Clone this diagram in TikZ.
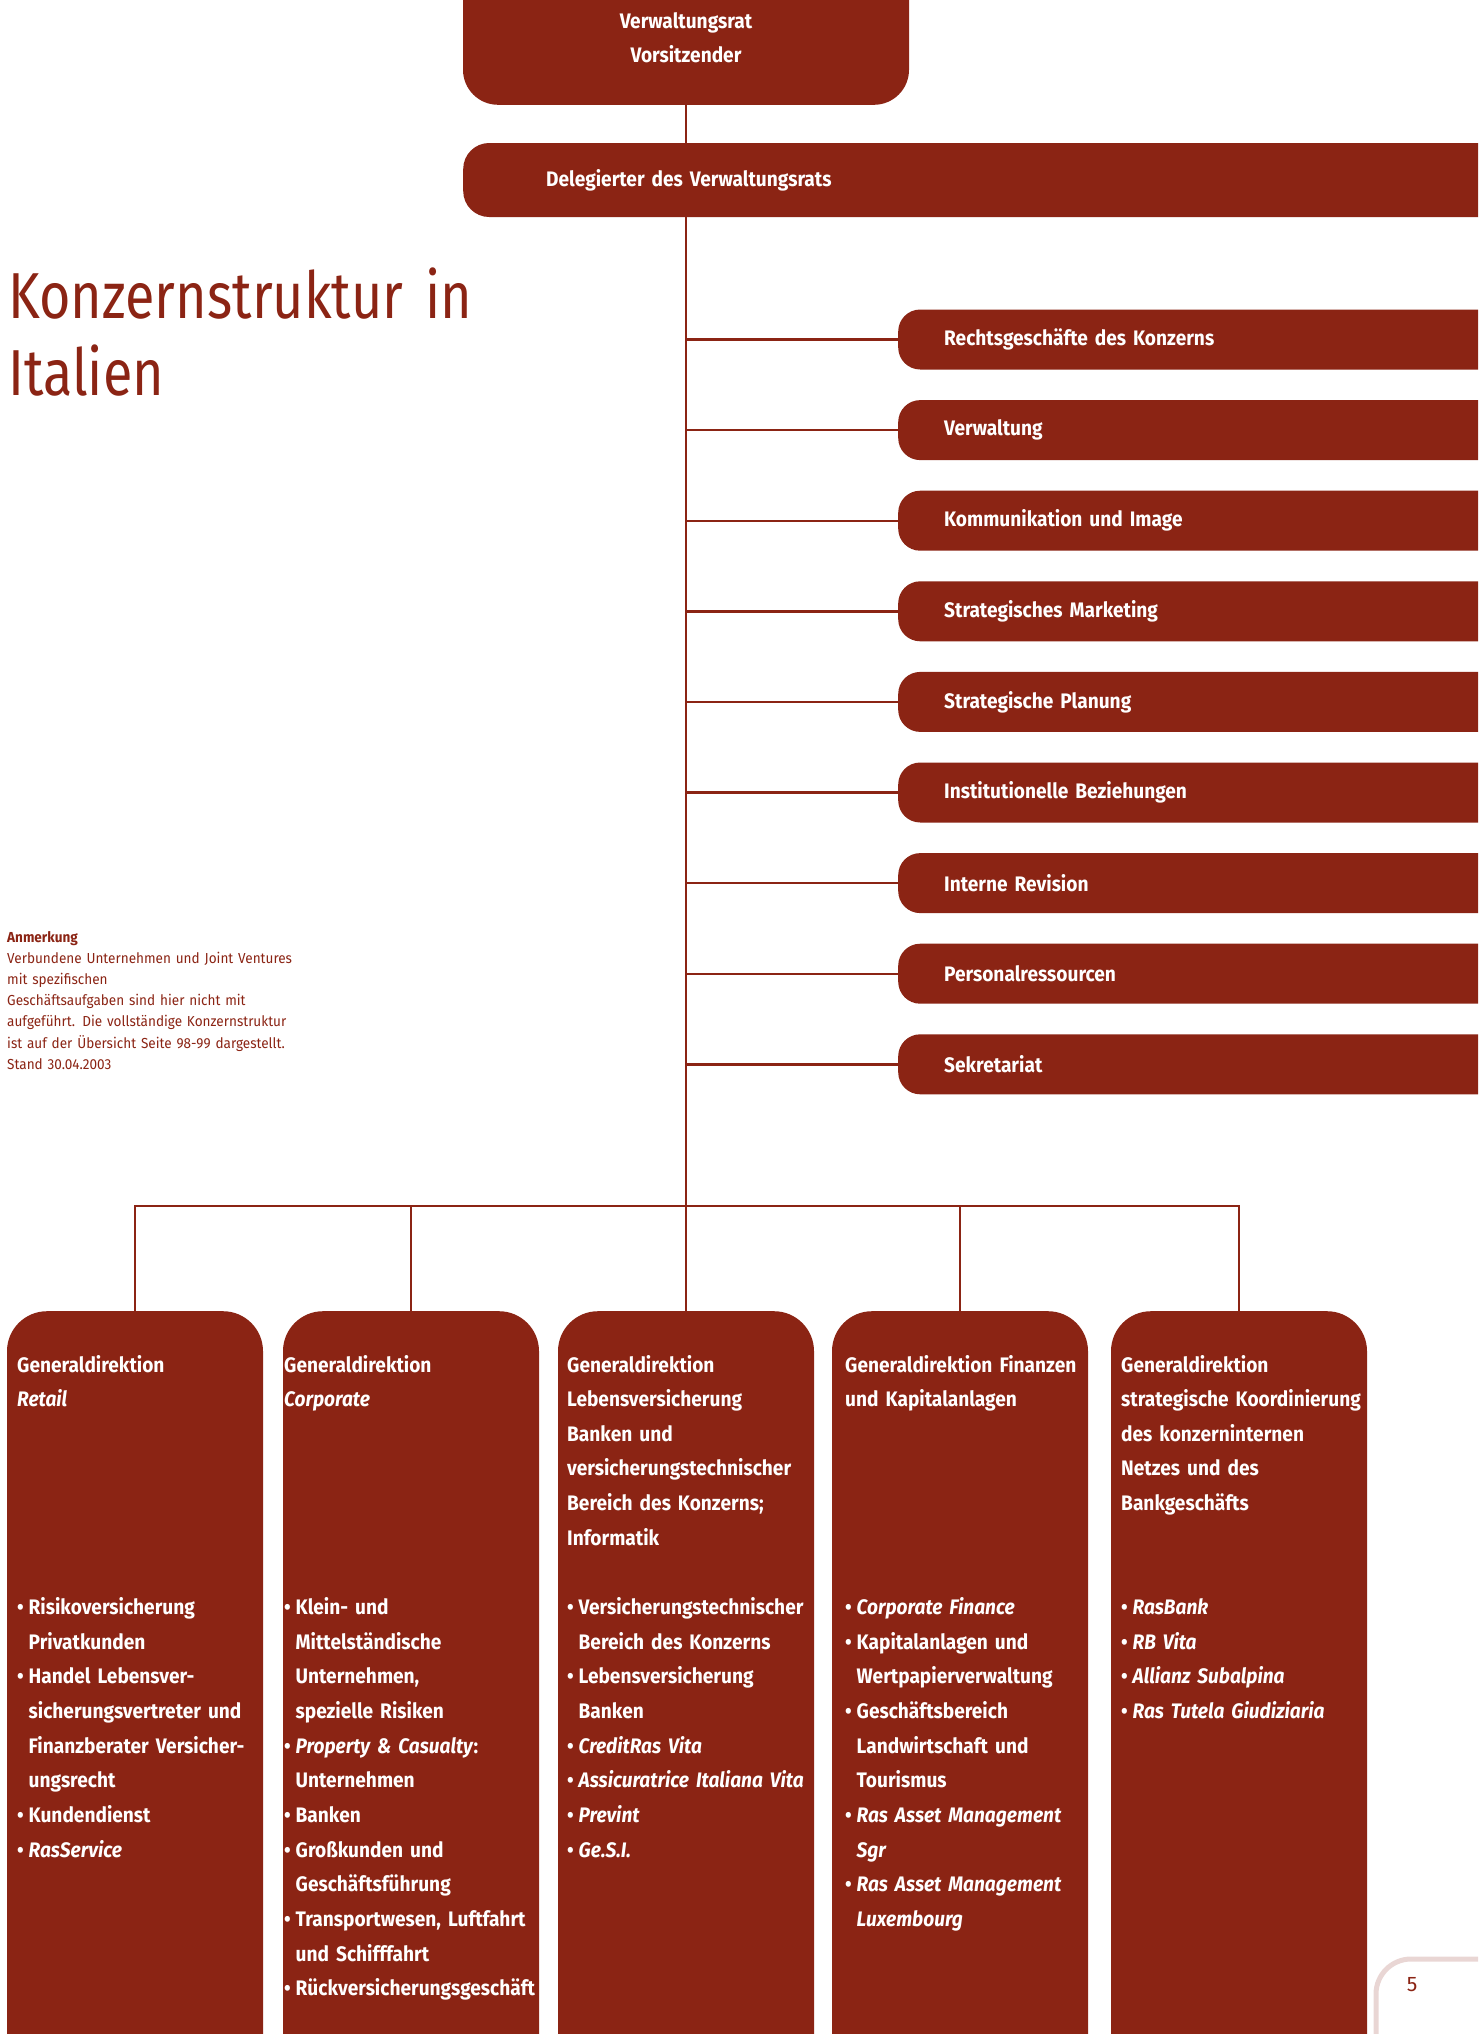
\documentclass[tikz,border=0pt]{standalone}
\usepackage{fontspec}
\setmainfont{Fira Sans}
\newfontfamily\ffb[FakeStretch=0.91]{Fira Sans}
\newfontfamily\fft[FakeStretch=0.83]{Fira Sans}
\newfontfamily\ffn[FakeStretch=0.935]{Fira Sans}
\usetikzlibrary{backgrounds}
\definecolor{rasred}{RGB}{139,36,20}
\definecolor{raspink}{RGB}{233,214,212}
\newcommand\bul{\makebox[11.5pt][l]{•}}
\newcommand\cnt{\hspace*{11.5pt}}
\newcommand\rt[1]{\raisebox{-5pt}{#1}}
\tikzset{
  conn/.style={draw=rasred, line width=2.4pt},
  boxfill/.style={fill=rasred, draw=none},
  rbox/.style={boxfill, rounded corners=22pt, minimum height=60pt, text width=570pt,
    inner xsep=46pt, inner ysep=0pt, align=left, anchor=west, text=white,
    font=\ffb\bfseries\fontsize{21}{25}\selectfont},
  colbox/.style={boxfill, rounded corners=40pt, minimum width=256pt, minimum height=800pt,
    anchor=north, inner sep=0pt},
  coltxt/.style={text=white, inner sep=0pt, text width=300pt, align=left, anchor=base west,
    font=\ffb\bfseries\fontsize{21}{34.65}\selectfont},
}
\begin{document}
\begin{tikzpicture}[x=1pt,y=-1pt]
\useasboundingbox (0,0) rectangle (1478,2034);
\begin{scope}
\clip (0,0) rectangle (1478,2034);

% top boxes
\node[boxfill, rounded corners=35pt, minimum width=446pt, minimum height=150pt, anchor=south] (vr) at (686,105) {};
\node[text=white, inner sep=0pt, align=center, font=\ffb\bfseries\fontsize{21}{34}\selectfont] (vrt) at (686,38) {Verwaltungsrat\\Vorsitzender};
\node[boxfill, rounded corners=26pt, minimum height=74pt, text width=1000pt, inner xsep=83pt, inner ysep=0pt,
  align=left, anchor=west, text=white, font=\ffb\bfseries\fontsize{21}{25}\selectfont] (del) at (463,180) {Delegierter des Verwaltungsrats};

% staff boxes
\node[rbox] (r1) at (898,339.5) {\rt{Rechtsgeschäfte des Konzerns}};
\node[rbox] (r2) at (898,430.1) {\rt{Verwaltung}};
\node[rbox] (r3) at (898,520.7) {\rt{Kommunikation und Image}};
\node[rbox] (r4) at (898,611.3) {\rt{Strategisches Marketing}};
\node[rbox] (r5) at (898,701.9) {\rt{Strategische Planung}};
\node[rbox] (r6) at (898,792.5) {\rt{Institutionelle Beziehungen}};
\node[rbox] (r7) at (898,883.1) {\rt{Interne Revision}};
\node[rbox] (r8) at (898,973.7) {\rt{Personalressourcen}};
\node[rbox] (r9) at (898,1064.3) {\rt{Sekretariat}};

% title and note
\node[text=rasred, inner sep=0pt, text width=600pt, align=left, anchor=base west,
  font=\fft\fontsize{65}{77}\selectfont] (title) at (8,318) {Konzernstruktur in\\Italien};
\node[text=rasred, inner sep=0pt, text width=400pt, align=left, anchor=base west,
  font=\ffn\fontsize{14.5}{21.2}\selectfont] (note) at (7,942) {\textbf{Anmerkung}\\
Verbundene Unternehmen und Joint Ventures\\
mit spezifischen\\
Geschäftsaufgaben sind hier nicht mit\\
aufgeführt. Die vollständige Konzernstruktur\\
ist auf der Übersicht Seite 98-99 dargestellt.\\
Stand 30.04.2003};

% columns
\node[colbox] (c1) at (135,1311) {};
\node[colbox] (c2) at (411,1311) {};
\node[colbox] (c3) at (686,1311) {};
\node[colbox] (c4) at (960,1311) {};
\node[colbox] (c5) at (1239,1311) {};

\node[coltxt] (h1) at (17,1372) {Generaldirektion\\\textit{Retail}};
\node[coltxt] (b1) at (17,1614.6) {\bul Risikoversicherung\\
\cnt Privatkunden\\
\bul Handel Lebensver-\\
\cnt sicherungsvertreter und\\
\cnt Finanzberater Versicher-\\
\cnt ungsrecht\\
\bul Kundendienst\\
\bul \textit{RasService}};

\node[coltxt] (h2) at (284,1372) {Generaldirektion\\\textit{Corporate}};
\node[coltxt] (b2) at (284,1614.6) {\bul Klein- und\\
\cnt Mittelständische\\
\cnt Unternehmen,\\
\cnt spezielle Risiken\\
\bul \textit{Property \& Casualty}:\\
\cnt Unternehmen\\
\bul Banken\\
\bul Großkunden und\\
\cnt Geschäftsführung\\
\bul Transportwesen, Luftfahrt\\
\cnt und Schifffahrt\\
\bul Rückversicherungsgeschäft};

\node[coltxt] (h3) at (567,1372) {Generaldirektion\\
Lebensversicherung\\
Banken und\\
versicherungstechnischer\\
Bereich des Konzerns;\\
Informatik};
\node[coltxt] (b3) at (567,1614.6) {\bul Versicherungstechnischer\\
\cnt Bereich des Konzerns\\
\bul Lebensversicherung\\
\cnt Banken\\
\bul \textit{CreditRas Vita}\\
\bul \textit{Assicuratrice Italiana Vita}\\
\bul \textit{Prevint}\\
\bul \textit{Ge.S.I.}};

\node[coltxt] (h4) at (845,1372) {Generaldirektion Finanzen\\und Kapitalanlagen};
\node[coltxt] (b4) at (845,1614.6) {\bul \textit{Corporate Finance}\\
\bul Kapitalanlagen und\\
\cnt Wertpapierverwaltung\\
\bul Geschäftsbereich\\
\cnt Landwirtschaft und\\
\cnt Tourismus\\
\bul \textit{Ras Asset Management}\\
\cnt \textit{Sgr}\\
\bul \textit{Ras Asset Management}\\
\cnt \textit{Luxembourg}};

\node[coltxt] (h5) at (1121,1372) {Generaldirektion\\
strategische Koordinierung\\
des konzerninternen\\
Netzes und des\\
Bankgeschäfts};
\node[coltxt] (b5) at (1121,1614.6) {\bul \textit{RasBank}\\
\bul \textit{RB Vita}\\
\bul \textit{Allianz Subalpina}\\
\bul \textit{Ras Tutela Giudiziaria}};

% page number
\draw[draw=raspink, line width=5pt, rounded corners=35pt] (1376,2070) -- (1376,1959) -- (1520,1959);
\node[text=rasred, inner sep=0pt, font=\fontsize{21}{25}\selectfont] (pg) at (1412,1985) {5};
\end{scope}

% connectors
\begin{pgfonlayer}{background}
\coordinate (bus) at (686,1206);
\draw[conn] (vr.south) -- (c3.north);
\foreach \r in {r1,r2,r3,r4,r5,r6,r7,r8,r9} {
  \draw[conn] (\r.west) -- (\r.west -| vr.south);
}
\draw[conn] (c1.north) |- (c5.north |- bus) -- (c5.north);
\draw[conn] (c2.north) -- (c2.north |- bus);
\draw[conn] (c4.north) -- (c4.north |- bus);
\end{pgfonlayer}
\end{tikzpicture}
\end{document}
